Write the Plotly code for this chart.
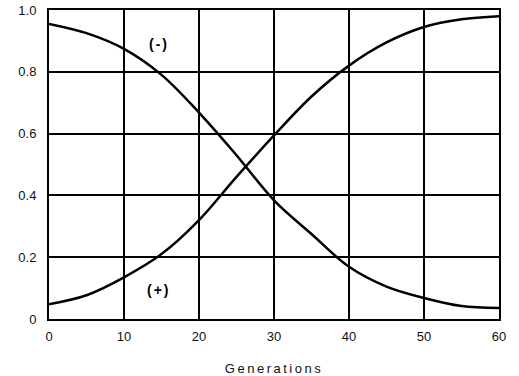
import plotly.graph_objects as go

generations = [0, 5, 10, 15, 20, 25, 30, 35, 40, 45, 50, 55, 60]
minus_vals = [0.955, 0.925, 0.874, 0.79, 0.668, 0.53, 0.384, 0.275, 0.169, 0.105, 0.068, 0.042, 0.036]
plus_vals = [0.048, 0.077, 0.135, 0.21, 0.32, 0.46, 0.594, 0.72, 0.82, 0.895, 0.945, 0.97, 0.98]

x_ticks = [0, 10, 20, 30, 40, 50, 60]
y_ticks = [0, 0.2, 0.4, 0.6, 0.8, 1.0]
y_labels = ["0", "0.2", "0.4", "0.6", "0.8", "1.0"]

fig = go.Figure()
fig.add_trace(go.Scatter(x=generations, y=minus_vals, mode="lines",
                         line=dict(color="black", width=2.5, shape="spline"), showlegend=False))
fig.add_trace(go.Scatter(x=generations, y=plus_vals, mode="lines",
                         line=dict(color="black", width=2.5, shape="spline"), showlegend=False))

fig.add_annotation(x=14.6, y=0.89, text='<span style="letter-spacing:2px"><b>(-)</b></span>',
                   showarrow=False, font=dict(family="Arial", size=14, color="black"))
fig.add_annotation(x=14.6, y=0.094, text='<span style="letter-spacing:2px"><b>(+)</b></span>',
                   showarrow=False, font=dict(family="Arial", size=14, color="black"))

axis_common = dict(showgrid=True, gridcolor="black", gridwidth=2,
                   showline=True, linecolor="black", linewidth=2, mirror=True,
                   zeroline=False, ticks="", automargin=False, ticklabeloverflow="allow",
                   tickfont=dict(family="Arial", size=13, color="#111"))

fig.update_xaxes(range=[0, 60], tickvals=x_ticks, ticklabelstandoff=4,
                 title=dict(text='<span style="letter-spacing:2.5px">Generations</span>',
                            font=dict(family="Arial", size=13, color="#111"), standoff=21),
                 **axis_common)
fig.update_yaxes(range=[0, 1.0], tickvals=y_ticks, ticktext=y_labels, ticklabelstandoff=8,
                 **axis_common)

fig.update_layout(width=519, height=376, margin=dict(l=49, r=20, t=10, b=57),
                  plot_bgcolor="white", paper_bgcolor="white")
# drop the default 8px body margin so the figure sits at the page corner
fig.write_html("out.html", config={"displayModeBar": False},
               post_script="document.body.style.margin='0';")
